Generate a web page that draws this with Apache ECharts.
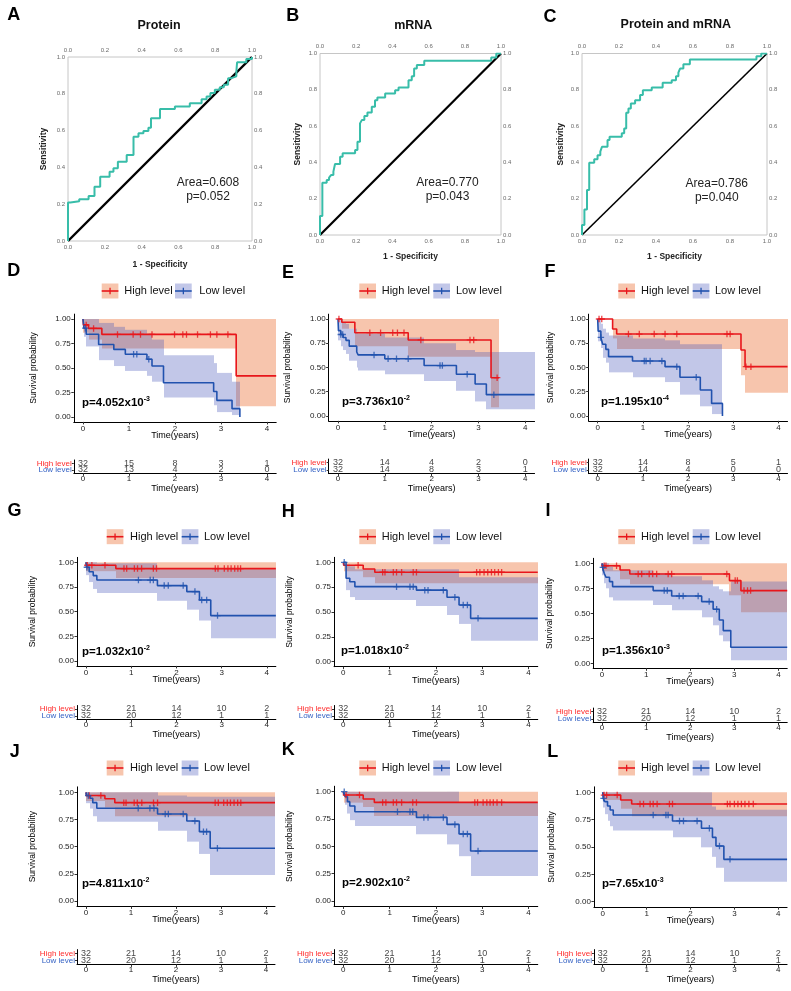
<!DOCTYPE html>
<html><head><meta charset="utf-8">
<script src="https://cdn.jsdelivr.net/npm/echarts@6/dist/echarts.min.js"></script>
<style>html,body{margin:0;padding:0;background:#fff}#c{width:791px;height:991px}</style>
</head><body><div id="c"></div><script>
// ---------------- ROC data: [1 - specificity, sensitivity] ----------------
const rocTitles = ['Protein', 'mRNA', 'Protein and mRNA'];
const rocAreaText = ['Area=0.608', 'Area=0.770', 'Area=0.786'];
const rocPText = ['p=0.052', 'p=0.043', 'p=0.040'];
const rocDiagonal = [[0, 0], [1, 1]];
const rocProtein = [[0,0],[0,0.209],[0.013,0.216],[0.061,0.227],[0.112,0.245],[0.144,0.295],[0.175,0.349],[0.226,0.376],[0.247,0.395],[0.271,0.431],[0.319,0.467],[0.356,0.567],[0.383,0.585],[0.41,0.598],[0.437,0.616],[0.451,0.667],[0.5,0.718],[0.581,0.731],[0.662,0.749],[0.726,0.771],[0.753,0.785],[0.774,0.804],[0.798,0.822],[0.825,0.836],[0.847,0.849],[0.87,0.885],[0.888,0.895],[0.915,0.922],[0.919,0.971],[0.969,0.989],[1,1]];
const rocMRNA = [[0,0],[0,0.105],[0.013,0.288],[0.037,0.303],[0.05,0.316],[0.061,0.33],[0.074,0.349],[0.083,0.391],[0.111,0.431],[0.125,0.45],[0.194,0.468],[0.207,0.514],[0.221,0.615],[0.231,0.633],[0.245,0.655],[0.262,0.675],[0.286,0.706],[0.304,0.743],[0.317,0.758],[0.36,0.78],[0.415,0.798],[0.434,0.813],[0.489,0.853],[0.507,0.875],[0.52,0.917],[0.535,0.936],[0.576,0.96],[0.946,0.978],[0.974,1],[1,1]];
const rocCombined = [[0,0],[0,0.055],[0.013,0.141],[0.027,0.248],[0.039,0.398],[0.066,0.417],[0.084,0.44],[0.099,0.459],[0.108,0.486],[0.138,0.523],[0.149,0.541],[0.215,0.56],[0.228,0.587],[0.239,0.673],[0.251,0.697],[0.264,0.725],[0.287,0.743],[0.314,0.771],[0.329,0.798],[0.377,0.813],[0.436,0.839],[0.485,0.853],[0.508,0.875],[0.521,0.894],[0.53,0.917],[0.548,0.941],[0.583,0.967],[0.943,0.985],[0.969,1],[1,1]];

// ---------------- Survival data ----------------
const legendLabels = ['High level', 'Low level'];
const riskRows = ['Low level', 'High level'];
const riskTimes = [0, 1, 2, 3, 4];
const survXTicks = [0, 1, 2, 3, 4];
const survYTicks = [0, 0.25, 0.5, 0.75, 1];

// curves: [time, survival]; censor times; CI rows: [time, lower, upper]
const D_high = [[0,1],[0.01,0.94],[0.12,0.904],[0.41,0.843],[3.33,0.42],[4.2,0.42]];
const D_high_cens = [0.07,0.23,0.75,1.09,1.25,1.5,1.99,2.17,2.25,2.49,2.77,2.91,3.15];
const D_high_ci = [[0,1,1],[0.01,0.86,1],[0.12,0.79,1],[0.41,0.70,1],[3.33,0.11,1]];
const D_low = [[0,1],[0.02,0.906],[0.07,0.844],[0.34,0.74],[0.67,0.69],[0.92,0.64],[1.39,0.59],[1.5,0.52],[1.75,0.35],[2.84,0.26],[2.91,0.17],[3.24,0.085],[3.41,0]];
const D_low_cens = [0.05,1.1,1.17,1.43];
const D_low_ci = [[0,1,1],[0.02,0.82,1],[0.07,0.72,1],[0.34,0.58,0.96],[0.67,0.52,0.92],[0.92,0.47,0.89],[1.39,0.42,0.85],[1.5,0.36,0.79],[1.75,0.2,0.63],[2.84,0.12,0.55],[2.91,0.05,0.45],[3.24,0.02,0.36]];
const D_risk_high = [32,15,8,3,1];
const D_risk_low = [32,13,4,2,0];
const D_p = ['p=4.052x10', '-3'];

const E_high = [[0,1],[0.08,0.966],[0.36,0.859],[1.5,0.784],[3.27,0.395],[3.44,0.395]];
const E_high_cens = [0.02,0.68,0.91,1.17,1.27,1.41,1.77,2.82,2.9,3.4];
const E_high_ci = [[0,1,1],[0.08,0.9,1],[0.36,0.72,1],[1.5,0.61,1],[3.27,0.09,1]];
const E_low = [[0,1],[0.01,0.88],[0.06,0.84],[0.11,0.81],[0.17,0.78],[0.24,0.72],[0.4,0.66],[0.43,0.63],[1.0,0.59],[1.84,0.52],[2.53,0.43],[2.93,0.33],[3.17,0.22],[4.2,0.22]];
const E_low_cens = [0.06,0.1,0.77,1.07,1.25,1.5,2.18,2.23,2.76,3.33];
const E_low_ci = [[0,1,1],[0.01,0.78,1],[0.06,0.72,1],[0.11,0.68,0.97],[0.17,0.64,0.95],[0.24,0.57,0.9],[0.4,0.5,0.86],[0.43,0.47,0.85],[1.0,0.43,0.81],[1.84,0.36,0.75],[2.53,0.26,0.68],[2.93,0.15,0.66],[3.17,0.07,0.66]];
const E_risk_high = [32,14,4,2,0];
const E_risk_low = [32,14,8,3,1];
const E_p = ['p=3.736x10', '-2'];

const F_high = [[0,1],[0.33,0.897],[0.42,0.845],[3.17,0.68],[3.26,0.509],[4.2,0.509]];
const F_high_cens = [0.03,0.09,0.68,0.92,1.25,1.49,1.75,2.86,2.93,3.28,3.39];
const F_high_ci = [[0,1,1],[0.33,0.8,1],[0.42,0.69,1],[3.17,0.42,1],[3.26,0.24,1]];
const F_low = [[0,1],[0.01,0.875],[0.07,0.81],[0.11,0.74],[0.18,0.687],[0.24,0.612],[0.77,0.567],[1.49,0.509],[1.82,0.399],[2.27,0.268],[2.52,0.13],[2.76,0]];
const F_low_cens = [0.07,1.03,1.07,1.16,1.42,1.75,2.18];
const F_low_ci = [[0,1,1],[0.01,0.77,1],[0.07,0.7,0.95],[0.11,0.6,0.9],[0.18,0.55,0.86],[0.24,0.45,0.83],[0.77,0.4,0.8],[1.49,0.35,0.78],[1.82,0.22,0.74],[2.27,0.1,0.74],[2.52,0.02,0.74]];
const F_risk_high = [32,14,8,5,1];
const F_risk_low = [32,14,4,0,0];
const F_p = ['p=1.195x10', '-4'];

const G_high = [[0,1],[0.01,0.97],[0.66,0.936],[4.2,0.936]];
const G_high_cens = [0.03,0.13,0.42,0.84,0.9,1.07,1.14,1.23,1.49,1.56,2.86,2.92,3.06,3.14,3.21,3.29,3.36,3.42];
const G_high_ci = [[0,1,1],[0.01,0.91,1],[0.66,0.84,1]];
const G_low = [[0,1],[0.01,0.95],[0.07,0.905],[0.16,0.865],[0.24,0.82],[1.58,0.764],[2.23,0.703],[2.51,0.618],[2.76,0.46],[4.2,0.46]];
const G_low_cens = [0.02,1.16,1.42,1.49,1.73,1.82,2.15,2.41,2.56,2.67,2.91];
const G_low_ci = [[0,1,1],[0.01,0.87,1],[0.07,0.8,1],[0.16,0.73,1],[0.24,0.69,0.99],[1.58,0.61,0.93],[2.23,0.52,0.93],[2.51,0.41,0.93],[2.76,0.23,0.93]];
const G_risk_high = [32,21,14,10,2];
const G_risk_low = [32,20,12,1,1];
const G_p = ['p=1.032x10', '-2'];

const H_high = [[0,1],[0.01,0.97],[0.43,0.933],[0.68,0.9],[4.2,0.9]];
const H_high_cens = [0.32,0.85,0.9,1.08,1.15,1.26,1.51,1.58,2.88,2.95,3.04,3.12,3.2,3.27,3.35,3.42];
const H_high_ci = [[0,1,1],[0.01,0.91,1],[0.43,0.85,1],[0.68,0.79,1]];
const H_low = [[0,1],[0.06,0.84],[0.14,0.805],[0.25,0.755],[1.58,0.72],[2.24,0.648],[2.5,0.57],[2.75,0.436],[4.2,0.436]];
const H_low_cens = [0.02,1.15,1.44,1.51,1.76,1.83,2.16,2.41,2.59,2.68,2.91];
const H_low_ci = [[0,1,1],[0.06,0.72,0.98],[0.14,0.65,0.96],[0.25,0.62,0.93],[1.58,0.56,0.93],[2.24,0.47,0.93],[2.5,0.38,0.85],[2.75,0.21,0.85]];
const H_risk_high = [32,21,14,10,2];
const H_risk_low = [32,20,12,1,1];
const H_p = ['p=1.018x10', '-2'];

const I_high = [[0,1],[0.01,0.975],[0.41,0.933],[0.63,0.893],[2.89,0.827],[3.15,0.727],[4.2,0.727]];
const I_high_cens = [0.05,0.09,0.33,0.82,0.9,1.07,1.15,1.24,1.5,1.58,2.83,3.02,3.07,3.22,3.3,3.37];
const I_high_ci = [[0,1,1],[0.01,0.92,1],[0.41,0.84,1],[0.63,0.79,1],[2.89,0.68,1],[3.15,0.51,1]];
const I_low = [[0,1],[0.01,0.96],[0.05,0.9],[0.09,0.86],[0.17,0.817],[0.24,0.767],[1.16,0.727],[1.58,0.673],[2.26,0.617],[2.52,0.54],[2.66,0.433],[2.75,0.327],[2.92,0.16],[4.2,0.16]];
const I_low_cens = [0.02,1.41,1.48,1.75,1.84,2.18,2.43,2.6];
const I_low_ci = [[0,1,1],[0.01,0.88,1],[0.05,0.8,1],[0.09,0.75,1],[0.17,0.66,0.97],[0.24,0.627,0.93],[1.16,0.583,0.9],[1.58,0.53,0.87],[2.26,0.46,0.83],[2.52,0.38,0.77],[2.66,0.28,0.74],[2.75,0.22,0.72],[2.92,0.03,0.817]];
const I_risk_high = [32,21,14,10,2];
const I_risk_low = [32,20,12,1,1];
const I_p = ['p=1.356x10', '-3'];

const J_high = [[0,1],[0.01,0.97],[0.42,0.94],[0.64,0.905],[4.2,0.905]];
const J_high_cens = [0.07,0.33,0.84,0.89,1.07,1.14,1.24,1.5,1.59,2.87,2.94,3.06,3.14,3.21,3.29,3.37,3.44];
const J_high_ci = [[0,1,1],[0.01,0.92,1],[0.42,0.86,1],[0.64,0.78,1]];
const J_low = [[0,1],[0.01,0.97],[0.09,0.945],[0.15,0.905],[0.24,0.853],[1.59,0.8],[2.24,0.736],[2.52,0.638],[2.76,0.485],[4.2,0.485]];
const J_low_cens = [0.05,1.16,1.42,1.51,1.76,1.83,2.16,2.42,2.61,2.68,2.92];
const J_low_ci = [[0,1,1],[0.01,0.9,1],[0.09,0.85,1],[0.15,0.78,1],[0.24,0.73,1],[1.59,0.647,0.97],[2.24,0.546,0.96],[2.52,0.433,0.96],[2.76,0.239,0.96]];
const J_risk_high = [32,21,14,10,2];
const J_risk_low = [32,20,12,1,1];
const J_p = ['p=4.811x10', '-2'];

const K_high = [[0,1],[0.01,0.97],[0.43,0.933],[0.67,0.902],[4.2,0.902]];
const K_high_cens = [0.06,0.35,0.85,0.92,1.08,1.15,1.26,1.5,1.58,2.84,2.9,3.02,3.1,3.17,3.24,3.32,3.42];
const K_high_ci = [[0,1,1],[0.01,0.9,1],[0.43,0.86,1],[0.67,0.777,1]];
const K_low = [[0,1],[0.04,0.954],[0.09,0.909],[0.14,0.869],[0.25,0.817],[1.58,0.765],[2.24,0.701],[2.5,0.613],[2.75,0.457],[4.2,0.457]];
const K_low_cens = [0.02,1.17,1.44,1.5,1.74,1.83,2.16,2.41,2.59,2.68,2.91];
const K_low_ci = [[0,1,1],[0.04,0.88,1],[0.09,0.8,1],[0.14,0.74,1],[0.25,0.686,1],[1.58,0.61,1],[2.24,0.518,1],[2.5,0.41,0.9],[2.75,0.229,0.9]];
const K_risk_high = [32,21,14,10,2];
const K_risk_low = [32,20,12,1,1];
const K_p = ['p=2.902x10', '-2'];

const L_high = [[0,1],[0.01,0.975],[0.41,0.93],[0.66,0.893],[4.2,0.893]];
const L_high_cens = [0.03,0.09,0.33,0.85,0.93,1.08,1.15,1.24,1.52,1.59,2.84,2.9,3.0,3.08,3.16,3.24,3.33,3.43];
const L_high_ci = [[0,1,1],[0.01,0.93,1],[0.41,0.85,1],[0.66,0.78,1]];
const L_low = [[0,1],[0.01,0.945],[0.05,0.915],[0.11,0.875],[0.17,0.838],[0.24,0.793],[1.59,0.738],[2.25,0.671],[2.5,0.588],[2.58,0.509],[2.76,0.387],[4.2,0.387]];
const L_low_cens = [0.02,1.15,1.44,1.49,1.75,1.84,2.15,2.43,2.66,2.9];
const L_low_ci = [[0,1,1],[0.01,0.86,1],[0.05,0.8,1],[0.11,0.74,1],[0.17,0.69,1],[0.24,0.65,1],[1.59,0.588,1],[2.25,0.497,1],[2.5,0.41,0.87],[2.58,0.31,0.84],[2.76,0.183,0.84]];
const L_risk_high = [32,21,14,10,2];
const L_risk_low = [32,20,12,1,1];
const L_p = ['p=7.65x10', '-3'];

// ---------------- styles & layout ----------------
const FONT = '"Liberation Sans", Arial, Helvetica, sans-serif';
const TEAL = '#38BDA9';
const RED = '#E8161B', BLUE = '#2152AE';
const RED_TXT = '#FF2B2B', BLUE_TXT = '#3562C4';
const RED_BAND = 'rgba(235,110,50,0.40)', BLUE_BAND = 'rgba(70,85,185,0.33)';
const RED_KEY = '#F7C5AD', BLUE_KEY = '#C2C7E8';

const rocLayout = [
  {l:68, t:57, w:184, h:184, letter:'A', lxy:[13.7,15], txy:[159,25.5], ax:208, ay:182.5, ng:19.5, yg:20, dw:2.4},
  {l:320, t:53.5, w:181, h:181.5, letter:'B', lxy:[292.7,16], txy:[413.3,25.5], ax:447.5, ay:182.5, ng:17.5, yg:18, dw:2.2},
  {l:582, t:53.5, w:185, h:181.5, letter:'C', lxy:[550,17.5], txy:[675.8,25], ax:716.8, ay:183.3, ng:17.5, yg:17, dw:1.6}
];
const survLayout = {
  D:{x0:83, sx:46, y1:319, y0:417, hy:463.3, ly:470, lxy:[13.7,270.8], leg:[101.7,175,124.3,199.3,291], pxy:[82,403], yGap:36},
  E:{x0:338, sx:46.8, y1:319, y0:416, hy:462.7, ly:470, lxy:[288,273.3], leg:[359.3,433.3,381.7,456,291], pxy:[342,402], yGap:36},
  F:{x0:597.7, sx:45.2, y1:319, y0:416, hy:462.7, ly:470, lxy:[550,272], leg:[618.3,692.7,641,715,291], pxy:[601,402], yGap:34},
  G:{x0:86, sx:45.2, y1:562.3, y0:661, hy:709, ly:716, lxy:[14.5,511], leg:[106.7,181.7,130,204,536.7], pxy:[82,652], yGap:40},
  H:{x0:343.3, sx:46.3, y1:562.3, y0:661.7, hy:709, ly:716, lxy:[288.3,511.7], leg:[359.3,433.3,381.7,456,536.7], pxy:[341,651], yGap:40},
  I:{x0:602, sx:44.1, y1:563.3, y0:663.3, hy:711.7, ly:719, lxy:[548,511], leg:[618.3,692.7,641,715,536.7], pxy:[602,651], yGap:39},
  J:{x0:86, sx:45, y1:792.3, y0:901, hy:953.3, ly:960.7, lxy:[14.7,751.7], leg:[106.7,181.7,130,204,768], pxy:[82,884], yGap:40},
  K:{x0:343.3, sx:46.3, y1:791.7, y0:901, hy:953.3, ly:960.7, lxy:[288.3,750], leg:[359.3,433.3,381.7,456,768], pxy:[342,883], yGap:40},
  L:{x0:602.7, sx:43.9, y1:792.3, y0:901.7, hy:953.3, ly:960.7, lxy:[552.8,752], leg:[618.3,692.7,641,715,768], pxy:[602,884], yGap:38}
};

const survPanels = [
  ['D', D_high, D_high_cens, D_high_ci, D_low, D_low_cens, D_low_ci, D_risk_high, D_risk_low, D_p],
  ['E', E_high, E_high_cens, E_high_ci, E_low, E_low_cens, E_low_ci, E_risk_high, E_risk_low, E_p],
  ['F', F_high, F_high_cens, F_high_ci, F_low, F_low_cens, F_low_ci, F_risk_high, F_risk_low, F_p],
  ['G', G_high, G_high_cens, G_high_ci, G_low, G_low_cens, G_low_ci, G_risk_high, G_risk_low, G_p],
  ['H', H_high, H_high_cens, H_high_ci, H_low, H_low_cens, H_low_ci, H_risk_high, H_risk_low, H_p],
  ['I', I_high, I_high_cens, I_high_ci, I_low, I_low_cens, I_low_ci, I_risk_high, I_risk_low, I_p],
  ['J', J_high, J_high_cens, J_high_ci, J_low, J_low_cens, J_low_ci, J_risk_high, J_risk_low, J_p],
  ['K', K_high, K_high_cens, K_high_ci, K_low, K_low_cens, K_low_ci, K_risk_high, K_risk_low, K_p],
  ['L', L_high, L_high_cens, L_high_ci, L_low, L_low_cens, L_low_ci, L_risk_high, L_risk_low, L_p]
];

// ---------------- builders ----------------
const grids = [], xAxes = [], yAxes = [], series = [], graphics = [];
const PLUS = 'path://M4,0H6V4H10V6H6V10H4V6H0V4H4Z';

function text(x, y, str, st) {
  graphics.push({type:'text', x:x, y:y, silent:true, z:100,
    style:Object.assign({text:str, fill:'#000', fontFamily:FONT, fontSize:12, align:'center', verticalAlign:'middle'}, st || {})});
}
function survAt(curve, t) {
  let s = curve[0][1];
  for (const p of curve) { if (p[0] <= t) s = p[1]; }
  return s;
}
function bandRows(ci, end) {
  return ci.map((r, i) => [r[0], i + 1 < ci.length ? ci[i + 1][0] : end, r[1], r[2]]);
}
function bandRender(color) {
  return function (params, api) {
    const xa = Math.round(api.coord([api.value(0), 0])[0]);
    const xb = Math.round(api.coord([api.value(1), 0])[0]);
    const yl = api.coord([0, api.value(2)])[1];
    const yu = api.coord([0, api.value(3)])[1];
    return {type:'rect', shape:{x:xa, y:yu, width:xb - xa, height:yl - yu}, style:{fill:color}};
  };
}

function addROC(i, data) {
  const G = rocLayout[i];
  const gi = grids.length;
  grids.push({left:G.l, top:G.t, width:G.w, height:G.h, show:true, borderColor:'#c6c6c6', borderWidth:1,
    backgroundColor:'transparent', containLabel:false, outerBoundsMode:'none'});
  const lab = {fontSize:6, color:'#6a6a6a', fontFamily:FONT, formatter:v => v.toFixed(1)};
  const common = {gridIndex:gi, type:'value', min:0, max:1, interval:0.2, axisLine:{show:false}, axisTick:{show:false}, splitLine:{show:false}};
  const nameStyle = {fontSize:8.5, fontWeight:'bold', color:'#222', fontFamily:FONT};
  const xi = xAxes.length, yi = yAxes.length;
  xAxes.push(Object.assign({}, common, {position:'bottom', axisLabel:Object.assign({margin:3}, lab),
    name:'1 - Specificity', nameLocation:'middle', nameGap:G.ng, nameTextStyle:nameStyle, nameMoveOverlap:false}));
  xAxes.push(Object.assign({}, common, {position:'top', axisLabel:Object.assign({margin:4}, lab)}));
  yAxes.push(Object.assign({}, common, {position:'left', axisLabel:Object.assign({margin:3}, lab),
    name:'Sensitivity', nameLocation:'middle', nameGap:G.yg, nameTextStyle:nameStyle, nameMoveOverlap:false}));
  yAxes.push(Object.assign({}, common, {position:'right', axisLabel:Object.assign({margin:2}, lab)}));
  series.push({type:'line', xAxisIndex:xi, yAxisIndex:yi, data:rocDiagonal, symbol:'none', silent:true,
    lineStyle:{color:'#000', width:G.dw}, z:2});
  series.push({type:'line', xAxisIndex:xi, yAxisIndex:yi, data:data, step:'end', symbol:'none', silent:true,
    lineStyle:{color:TEAL, width:2}, z:3});
  text(G.lxy[0], G.lxy[1], G.letter, {fontSize:18, fontWeight:'bold'});
  text(G.txy[0], G.txy[1], rocTitles[i], {fontSize:12.5, fontWeight:'bold', fill:'#111'});
  text(G.ax, G.ay, rocAreaText[i], {fontSize:12, fill:'#222'});
  text(G.ax, G.ay + 14.5, rocPText[i], {fontSize:12, fill:'#222'});
}

function addSurv(P) {
  const [id, hi, hiC, hiCI, lo, loC, loCI, rH, rL, pv] = P;
  const L = survLayout[id];
  const left = L.x0 - 0.2 * L.sx, width = 4.4 * L.sx;
  const span = L.y0 - L.y1;
  const gi = grids.length;
  grids.push({left:left, top:L.y1 - 0.05 * span, width:width, height:1.1 * span, containLabel:false, outerBoundsMode:'none'});
  const xi = xAxes.length, yi = yAxes.length;
  const axLine = {show:true, onZero:false, lineStyle:{color:'#000', width:1}};
  xAxes.push({gridIndex:gi, type:'value', min:-0.2, max:4.2, axisLine:axLine,
    axisTick:{show:true, length:2.5, customValues:survXTicks, lineStyle:{color:'#333'}},
    axisLabel:{customValues:survXTicks, fontSize:8, color:'#222', margin:2.5, fontFamily:FONT},
    splitLine:{show:false}, name:'Time(years)', nameLocation:'middle', nameGap:9, nameMoveOverlap:false,
    nameTextStyle:{fontSize:9, color:'#000', fontFamily:FONT}});
  yAxes.push({gridIndex:gi, type:'value', min:-0.05, max:1.05, axisLine:axLine,
    axisTick:{show:true, length:2.5, customValues:survYTicks, lineStyle:{color:'#333'}},
    axisLabel:{customValues:survYTicks, fontSize:8, color:'#222', margin:3, fontFamily:FONT, formatter:v => Number(v).toFixed(2)},
    splitLine:{show:false}, name:'Survival probability', nameLocation:'middle', nameGap:L.yGap, nameMoveOverlap:false,
    nameTextStyle:{fontSize:8.5, color:'#000', fontFamily:FONT}});
  const base = {xAxisIndex:xi, yAxisIndex:yi, silent:true};
  series.push(Object.assign({type:'custom', data:bandRows(hiCI, hi[hi.length - 1][0]), renderItem:bandRender(RED_BAND),
    encode:{x:[0, 1], y:[2, 3]}, z:1}, base));
  series.push(Object.assign({type:'custom', data:bandRows(loCI, lo[lo.length - 1][0]), renderItem:bandRender(BLUE_BAND),
    encode:{x:[0, 1], y:[2, 3]}, z:2}, base));
  series.push(Object.assign({type:'line', data:hi, step:'end', symbol:'none', lineStyle:{color:RED, width:1.6}, z:3}, base));
  series.push(Object.assign({type:'line', data:lo, step:'end', symbol:'none', lineStyle:{color:BLUE, width:1.6}, z:4}, base));
  series.push(Object.assign({type:'scatter', data:hiC.map(t => [t, survAt(hi, t)]), symbol:PLUS, symbolSize:6.5,
    itemStyle:{color:RED}, z:5}, base));
  series.push(Object.assign({type:'scatter', data:loC.map(t => [t, survAt(lo, t)]), symbol:PLUS, symbolSize:6.5,
    itemStyle:{color:BLUE}, z:6}, base));

  // risk table
  const rh = 2 * (L.ly - L.hy);
  const rg = grids.length;
  grids.push({left:left, top:L.hy - rh / 4, width:width, height:rh, containLabel:false, outerBoundsMode:'none'});
  const rxi = xAxes.length, ryi = yAxes.length;
  xAxes.push({gridIndex:rg, type:'value', min:-0.2, max:4.2, axisLine:axLine,
    axisTick:{show:true, length:2.5, customValues:survXTicks, lineStyle:{color:'#333'}},
    axisLabel:{customValues:survXTicks, fontSize:8, color:'#222', margin:1.5, fontFamily:FONT},
    splitLine:{show:false}, name:'Time(years)', nameLocation:'middle', nameGap:10.5, nameMoveOverlap:false,
    nameTextStyle:{fontSize:9, color:'#000', fontFamily:FONT}});
  yAxes.push({gridIndex:rg, type:'category', data:riskRows, axisLine:axLine,
    axisTick:{show:true, length:2, alignWithLabel:true, interval:0, lineStyle:{color:'#333'}},
    axisLabel:{margin:2, fontSize:8, fontFamily:FONT, interval:0, hideOverlap:false,
      formatter:v => v === 'High level' ? '{h|' + v + '}' : '{l|' + v + '}',
      rich:{h:{color:RED_TXT, fontSize:8, fontFamily:FONT, lineHeight:8}, l:{color:BLUE_TXT, fontSize:8, fontFamily:FONT, lineHeight:8}}},
    splitLine:{show:false}});
  const riskData = riskTimes.map((t, k) => [t, 1, rH[k]]).concat(riskTimes.map((t, k) => [t, 0, rL[k]]));
  series.push({type:'scatter', xAxisIndex:rxi, yAxisIndex:ryi, data:riskData, symbolSize:1, silent:true,
    itemStyle:{color:'rgba(0,0,0,0)'}, z:5,
    label:{show:true, position:'inside', formatter:p => String(p.value[2]), fontSize:9, color:'#111', fontFamily:FONT}});

  // letter, legend, p-value
  text(L.lxy[0], L.lxy[1], id, {fontSize:18, fontWeight:'bold'});
  const lg = L.leg, cy = lg[4];
  [[lg[0], RED_KEY, RED, lg[2], legendLabels[0]], [lg[1], BLUE_KEY, BLUE, lg[3], legendLabels[1]]].forEach(k => {
    graphics.push({type:'rect', silent:true, z:90, shape:{x:k[0], y:cy - 7.5, width:16.7, height:15}, style:{fill:k[1]}});
    graphics.push({type:'line', silent:true, z:91, shape:{x1:k[0], y1:cy, x2:k[0] + 16.7, y2:cy}, style:{stroke:k[2], lineWidth:1.6}});
    graphics.push({type:'line', silent:true, z:91, shape:{x1:k[0] + 8.35, y1:cy - 3.2, x2:k[0] + 8.35, y2:cy + 3.2}, style:{stroke:k[2], lineWidth:1.3}});
    text(k[3], cy, k[4], {fontSize:11, align:'left', fill:'#111'});
  });
  graphics.push({type:'text', x:L.pxy[0], y:L.pxy[1], silent:true, z:100,
    style:{text:'{b|' + pv[0] + '}{s|' + pv[1] + '}', align:'left', verticalAlign:'middle',
      rich:{b:{fontSize:11.5, fontWeight:'bold', fill:'#000', fontFamily:FONT, lineHeight:14},
            s:{fontSize:7, fontWeight:'bold', fill:'#000', fontFamily:FONT, verticalAlign:'top', lineHeight:8}}}});
}

addROC(0, rocProtein);
addROC(1, rocMRNA);
addROC(2, rocCombined);
survPanels.forEach(addSurv);

const chart = echarts.init(document.getElementById('c'), null, {renderer:'canvas'});
chart.setOption({
  animation:false,
  backgroundColor:'#fff',
  textStyle:{fontFamily:FONT},
  grid:grids, xAxis:xAxes, yAxis:yAxes, series:series,
  graphic:{elements:graphics}
});
</script></body></html>
